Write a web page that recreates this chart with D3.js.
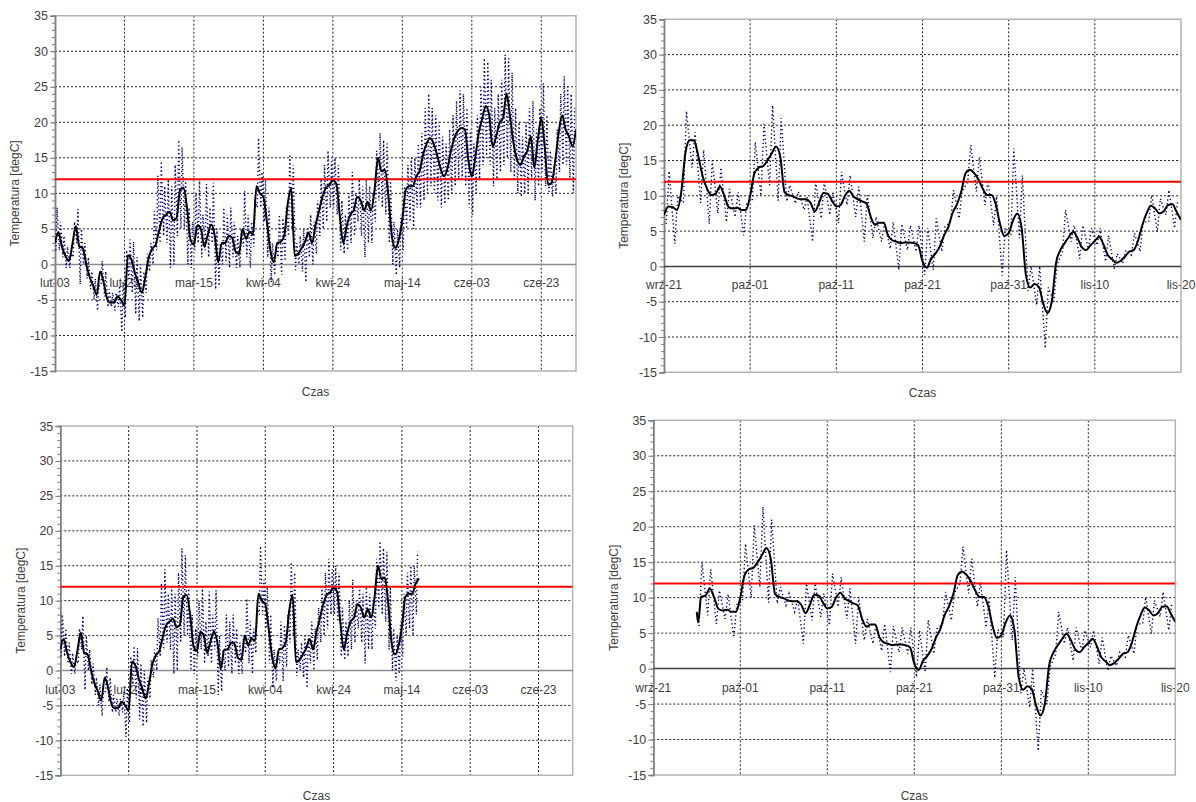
<!DOCTYPE html>
<html><head><meta charset="utf-8">
<script src="https://cdn.jsdelivr.net/npm/d3@7"></script>
<style>
body{margin:0;background:#fff;}
svg{display:block;font-family:"Liberation Sans",Arial,sans-serif;}
</style>
</head><body>
<svg id="c" width="1196" height="802"></svg>
<script>
// ---------- DATA ----------
const springTickLabels = ["lut-03","lut-23","mar-15","kwi-04","kwi-24","maj-14","cze-03","cze-23"];
const springTickDays = [0,20,40,60,80,100,120,140];
const autumnTickLabels = ["wrz-21","paź-01","paź-11","paź-21","paź-31","lis-10","lis-20"];
const autumnTickDays = [0,10,20,30,40,50,60];
const yTicks = [-15,-10,-5,0,5,10,15,20,25,30,35];
const threshold = 12;

// spring: smoothed (black) daily values starting lut-03
const springBlack = [
 3.0,4.5,2.5,1.2,0.5,2.8,5.4,2.5,2.3,0.0,
 -1.8,-3.0,-4.3,-1.0,-2.5,-4.8,-5.4,-5.3,-4.5,-5.0,
 -5.8,1.3,0.7,-1.2,-2.6,-4.0,-1.8,1.0,2.2,2.8,
 4.8,6.5,7.0,7.4,6.2,6.5,10.5,10.8,8.0,3.5,
 2.8,5.5,5.0,2.5,4.2,5.6,4.0,0.3,3.0,3.0,
 4.0,3.8,1.8,1.5,5.0,3.6,4.6,4.2,11.0,10.0,
 9.5,6.0,2.0,0.3,3.0,3.2,4.0,8.5,10.8,1.2,
 1.5,2.3,3.2,4.5,3.0,5.5,7.5,9.5,10.8,11.2,
 11.8,11.3,6.8,3.0,5.4,7.0,7.6,9.5,9.0,7.6,
 8.8,7.6,10.5,15.0,13.1,13.3,9.6,3.9,2.3,3.5,
 6.3,10.5,11.0,11.0,12.4,13.2,15.5,17.0,17.8,17.0,
 15.4,13.5,12.4,13.5,16.0,17.8,18.8,19.2,19.0,14.7,
 12.4,15.0,18.5,20.5,22.3,21.0,16.5,18.0,19.9,20.6,
 24.0,20.8,17.1,14.8,14.0,15.2,16.0,18.0,13.6,17.5,
 20.6,16.5,11.2,11.5,14.5,18.5,21.0,19.0,18.0,16.6,19.0
];
// spring: hourly (blue dotted) daily maxima / minima
const springBlueMax = [
 8,6,4,2.5,1.5,6,7.8,5,3,1,
 -1,-2,-3,0.5,-1,-3.5,-4,-4,-3,-2.5,
 2,3.5,3.2,1,0,-1,1.5,3,7.5,12.5,
 14.5,11,12,11,14,17.5,16.5,12,8,6,
 10,12,7,11.3,8,11.5,5,3,8,7,
 8,6,4,5,10.3,7,6,9,17.8,13,
 12,8,3,2.5,7,6.5,8,15.5,14,3,
 4,5,5,7,6,9,12,14,16,14.5,
 15,14,9,7,10,13,10,12,11,12,
 11,10,16,18.5,17.5,17,12,6,5,7,
 11,14,15,15,17,18.5,22,24,22,21,
 20,18,17,19,21,23,24.5,24,22,19,
 17,21,25,29,28.5,26,22,24,26,29.5,
 29,27,22,20,18,20,22,23,19,22,
 25.5,21,16,14,19,24,26.5,25,24,22,24
];
const springBlueMin = [
 2,2,1,-0.5,-0.5,1,3,-2.8,0,-2,
 -3.5,-5,-6.5,-3,-4.5,-6,-6,-6.5,-6,-9.5,
 -7.5,-2,-4,-7,-8,-7.5,-4,-1,0,2,
 3,4,3,-0.5,0,4,5,5,0,-0.5,
 2,3,1,2,1,3,-3.5,-3,0,0.5,
 -0.5,1,-0.5,-0.5,2.5,1,-0.5,2.5,8,8,
 6,1,-2.5,-1.5,1,-1.5,0.5,4,5,-0.8,
 0,-1,-2.5,1,0,1.5,4,5,6,8,
 8,7,2,1.5,2,3,4,6,4,1,
 3,3,6,9,8,7,3,0,-1.5,-0.5,
 2,5,6,5,8,8,9,10,11,10,
 9,8,8.5,9,10,11,12,12,11,8,
 7,10,12,14,15,14,11,12,13,14,
 15,13,12,10,9.5,10,10,12,9,11,
 13,11,10,9.5,10,13,14,14,12,10,13
];

// autumn: smoothed (black) half-day values starting wrz-21
const autumnBlack = [
 7.3,8.5,8.4,8.0,10.5,16.2,17.9,17.8,15.5,12.7,
 11.0,10.1,10.3,11.3,10.0,8.4,8.2,8.3,8.0,8.0,
 10.0,13.2,14.0,14.2,15.0,16.0,17.0,15.5,10.5,10.1,
 9.9,9.6,9.5,9.5,9.0,7.8,9.0,10.4,10.3,9.3,
 8.5,8.7,10.0,10.7,9.9,9.5,9.2,8.9,7.0,5.9,
 6.2,6.2,4.4,3.7,3.5,3.3,3.4,3.4,3.3,3.0,
 0.7,-0.2,1.1,1.8,2.8,4.4,5.6,7.6,8.8,10.6,
 13.2,13.7,13.2,12.3,11.0,10.1,10.1,8.8,6.0,4.3,
 4.7,6.5,7.5,5.5,-1.2,-3.0,-2.5,-2.9,-5.2,-6.6,
 -5.0,0.5,2.3,3.3,4.2,4.9,4.0,2.7,2.3,3.0,
 3.6,4.2,3.1,1.6,1.0,0.5,0.8,1.4,2.1,2.3,
 3.6,5.8,7.5,8.6,8.2,7.5,7.8,8.7,8.8,7.7,
 6.6
];
// lower-right chart: smoothed series restarts on wrz-26 (first readings)
const autumnRestartTimes = [5.0, 5.15];
const autumnRestartValues = [8.0, 6.5];
// autumn: hourly (blue dotted) daily maxima / minima
const autumnBlueMax = [
 13.5,10,22,19,16.5,15,14,11,10.5,9,
 17.6,20.2,22.8,21,11.5,10.6,9.8,12,12,10.6,
 13.4,12.9,11.3,10.1,7,6.3,6.3,6,5.8,5.8,
 5.4,6.8,5.6,10.8,10.6,17.2,15.5,12.2,9.9,5.5,
 16.7,12.9,0,0,-3,0.2,8,5.8,5.8,5.4,
 5.4,4.4,1.8,2.3,4.7,6.3,10.1,9.6,10.8,9.2
];
const autumnBlueMin = [
 6,3.2,9,14,9,6,7.5,6.3,7,4.4,
 9.5,10,11.5,9.3,9.2,8.9,8.0,3.5,6.8,7.3,
 6.1,8.7,7.0,3.5,4,3.5,2.5,-0.5,2.3,2.1,
 -1.2,-0.5,2.1,6.3,6.8,12,10.6,8.7,5.8,-1.3,
 4.4,4.0,-3.5,-5.5,-11.6,-5,2.1,3.5,1.1,2.5,
 3.0,0.7,-0.3,0.4,1.6,2.1,6.3,4.9,7.3,5.4
];

// ---------- BUILD SERIES ----------
function blueSeries(maxArr, minArr){
  const out=[];
  maxArr.forEach((mx,i)=>{ out.push({t:i+0.25,v:minArr[i]}); out.push({t:i+0.6,v:mx}); });
  return out;
}
const springBlackPts = springBlack.map((v,i)=>({t:i,v}));
const springBluePts = blueSeries(springBlueMax, springBlueMin);
const autumnBlackPts = autumnBlack.map((v,i)=>({t:i/2,v}));
const autumnBluePts = blueSeries(autumnBlueMax, autumnBlueMin);
const autumnBlackPts4 = autumnRestartTimes.map((t,i)=>({t,v:autumnRestartValues[i]}))
  .concat(autumnBlackPts.filter(d=>d.t>=5.5));

const panels = [
  {id:"p1", x0:55, x1:576, y0:15.7, y1:371, days:150, tickDays:springTickDays, labels:springTickLabels,
   black:springBlackPts, blue:springBluePts, tMin:0, tMax:150, zeroCol:"#8c8c8c"},
  {id:"p2", x0:664, x1:1181, y0:19.3, y1:372.3, days:60, tickDays:autumnTickDays, labels:autumnTickLabels,
   black:autumnBlackPts, blue:autumnBluePts, tMin:0, tMax:60, zeroCol:"#404040"},
  {id:"p3", x0:60.3, x1:572.7, y0:426, y1:775.3, days:150, tickDays:springTickDays, labels:springTickLabels,
   black:springBlackPts, blue:springBluePts, tMin:0, tMax:105, zeroCol:"#8c8c8c"},
  {id:"p4", x0:653.3, x1:1175.3, y0:420.3, y1:775, days:60, tickDays:autumnTickDays, labels:autumnTickLabels,
   black:autumnBlackPts4, blue:autumnBluePts, tMin:5, tMax:60, zeroCol:"#404040"}
];

const svg = d3.select("#c");
const defs = svg.append("defs");

panels.forEach(p=>{
  const x = d3.scaleLinear().domain([0,p.days]).range([p.x0,p.x1]);
  const y = d3.scaleLinear().domain([-15,35]).range([p.y1,p.y0]);
  const g = svg.append("g");
  defs.append("clipPath").attr("id","clip-"+p.id).append("rect")
    .attr("x",p.x0).attr("y",p.y0).attr("width",p.x1-p.x0).attr("height",p.y1-p.y0);

  // x tick labels (under everything)
  g.append("g").selectAll("text").data(p.tickDays).join("text")
    .attr("x",d=>x(d)).attr("y",y(0)+23)
    .attr("text-anchor","middle").attr("font-size",12).attr("fill","#404040")
    .text((d,i)=>p.labels[i]);

  // horizontal grid
  g.append("g").selectAll("line").data(yTicks.filter(v=>v!==0 && v!==35 && v!==-15)).join("line")
    .attr("x1",p.x0).attr("x2",p.x1).attr("y1",d=>y(d)).attr("y2",d=>y(d))
    .attr("stroke","#202020").attr("stroke-width",1).attr("stroke-dasharray","2,2");
  // vertical grid
  g.append("g").selectAll("line").data(p.tickDays.filter(d=>d>0 && d<p.days)).join("line")
    .attr("x1",d=>x(d)).attr("x2",d=>x(d)).attr("y1",p.y0).attr("y2",p.y1)
    .attr("stroke","#202020").attr("stroke-width",1).attr("stroke-dasharray","2,2");

  // frame (top, right, bottom)
  g.append("path").attr("d",`M${p.x0},${p.y0}H${p.x1}V${p.y1}H${p.x0}`)
    .attr("fill","none").attr("stroke","#b4b4b4").attr("stroke-width",1.5);

  // y axis with major + minor ticks
  const yAxisMinor = d3.axisLeft(y).tickValues(d3.range(-15,36,1)).tickSize(3).tickFormat("");
  const ga = g.append("g").attr("transform",`translate(${p.x0},0)`);
  ga.call(yAxisMinor);
  const yAxisMajor = d3.axisLeft(y).tickValues(yTicks).tickSize(5).tickPadding(2).tickFormat(d=>String(d));
  const gb = g.append("g").attr("transform",`translate(${p.x0},0)`);
  gb.call(yAxisMajor);
  [ga,gb].forEach(a=>{
    a.selectAll("path").attr("stroke","#808080").attr("stroke-width",1.5);
    a.selectAll("line").attr("stroke","#808080");
  });
  gb.selectAll("text").attr("font-size",12.5).attr("fill","#404040").attr("font-family","Liberation Sans, Arial, sans-serif");

  // zero axis line
  g.append("line").attr("x1",p.x0).attr("x2",p.x1).attr("y1",y(0)).attr("y2",y(0))
    .attr("stroke",p.zeroCol).attr("stroke-width",1.5);

  const plot = g.append("g").attr("clip-path",`url(#clip-${p.id})`);
  const line = d3.line().x(d=>x(d.t)).y(d=>y(d.v));

  // blue dotted hourly series
  plot.append("path").datum(p.blue.filter(d=>d.t>=p.tMin && d.t<=p.tMax))
    .attr("d",line.curve(d3.curveLinear))
    .attr("fill","none").attr("stroke","#000080").attr("stroke-width",1.4)
    .attr("stroke-dasharray","1.3,2.6");

  // threshold
  plot.append("line").attr("x1",p.x0).attr("x2",p.x1).attr("y1",y(threshold)).attr("y2",y(threshold))
    .attr("stroke","#ff0000").attr("stroke-width",2);

  // smoothed black series
  plot.append("path").datum(p.black.filter(d=>d.t>=p.tMin && d.t<=p.tMax))
    .attr("d",d3.line().x(d=>x(d.t)).y(d=>y(d.v)).curve(d3.curveMonotoneX))
    .attr("fill","none").attr("stroke","#000").attr("stroke-width",2);

  // axis titles
  g.append("text").attr("transform",`translate(${p.x0-40},${(p.y0+p.y1)/2}) rotate(-90)`)
    .attr("text-anchor","middle").attr("dy","0.35em").attr("font-size",12).attr("fill","#404040")
    .text("Temperatura [degC]");
  g.append("text").attr("x",(p.x0+p.x1)/2).attr("y",p.y1+24.5)
    .attr("text-anchor","middle").attr("font-size",12).attr("fill","#404040").text("Czas");
});
</script>
</body></html>
